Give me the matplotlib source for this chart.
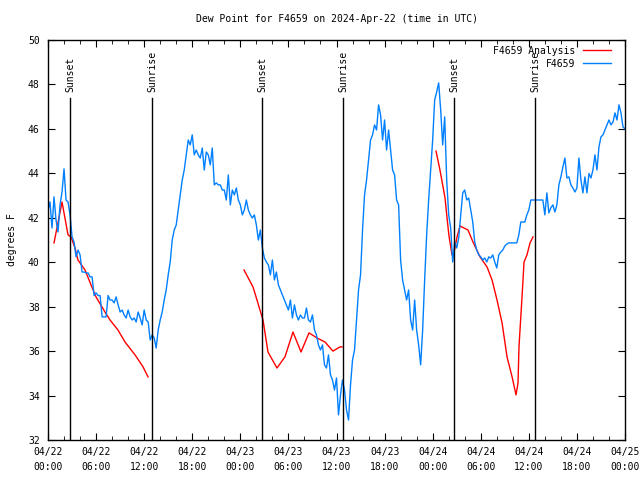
import numpy as np
import pandas as pd
import matplotlib
matplotlib.use('Agg')
from matplotlib import pyplot as plt
import matplotlib.dates as mdates

plt.rcParams['font.family'] = ['DejaVu Sans Mono']
plt.rcParams['font.size'] = 7

base = pd.Timestamp('2024-04-22 00:00')

# F4659 observations, every 15 minutes from 04/22 00:00 (degrees F)
obs_values = [
    42.35, 42.71, 41.54, 42.94, 41.90, 41.36, 42.58, 43.16, 44.20, 42.80,
    42.71, 42.13, 41.14, 40.91, 40.24, 40.55, 40.33, 39.56, 39.56, 39.52,
    39.52, 39.34, 39.34, 38.50, 38.62, 38.50, 38.50, 37.54, 37.54, 37.54,
    38.50, 38.30, 38.30, 38.17, 38.44, 38.08, 37.76, 37.85, 37.63, 37.49,
    37.85, 37.54, 37.40, 37.49, 37.31, 37.76, 37.49, 37.18, 37.85, 37.40,
    37.31, 36.50, 36.73, 36.59, 36.14, 36.95, 37.40, 37.76, 38.30, 38.75,
    39.43, 40.01, 41.00, 41.45, 41.68, 42.35, 43.03, 43.70, 44.15, 44.83,
    45.50, 45.28, 45.73, 44.83, 45.05, 44.83, 44.69, 45.14, 44.15, 44.96,
    44.83, 44.38, 45.14, 43.48, 43.57, 43.48, 43.48, 43.25, 43.25, 42.80,
    43.93, 42.58, 43.25, 43.03, 43.34, 42.80, 42.58, 42.13, 42.35, 42.80,
    42.35, 42.13, 41.99, 42.13, 41.68, 41.00, 41.45, 40.64, 40.19, 40.01,
    39.88, 39.43, 40.10, 39.20, 39.56, 38.98, 38.75, 38.53, 38.30, 38.08,
    37.85, 38.30, 37.49, 38.08, 37.63, 37.40, 37.63, 37.49, 37.49, 37.94,
    37.40, 37.31, 37.63, 36.95, 36.73, 36.28, 36.05, 36.28, 35.38, 35.24,
    35.83, 34.93, 34.70, 34.25, 34.79, 33.13, 34.03, 34.70, 34.25, 33.35,
    32.90, 34.48, 35.60, 36.05, 37.40, 38.75, 39.43, 41.45, 43.03, 43.70,
    44.60, 45.50, 45.73, 46.18, 45.95, 47.08, 46.63, 45.50, 46.40, 45.05,
    45.95, 45.05, 44.15, 43.93, 42.80, 42.58, 40.10, 39.20, 38.75, 38.30,
    38.75, 37.40, 36.95, 38.30, 36.95, 36.28, 35.38, 36.95, 39.20, 41.23,
    42.80, 44.15, 45.50, 47.30, 47.66, 48.07, 46.85, 45.28, 46.54, 43.70,
    42.13, 41.54, 40.01, 40.91, 40.64, 41.09, 42.13, 43.12, 43.25, 42.80,
    42.89, 42.35, 41.81, 40.91, 40.55, 40.33, 40.24, 40.10, 40.19, 40.01,
    40.24, 40.19, 40.33, 40.01, 39.74, 40.33, 40.46, 40.55, 40.73, 40.82,
    40.87, 40.87, 40.87, 40.87, 40.87, 41.23, 41.81, 41.81, 41.81, 42.13,
    42.35, 42.80, 42.80, 42.80, 42.80, 42.80, 42.80, 42.80, 42.13, 43.12,
    42.22, 42.45, 42.58, 42.26, 42.58, 43.48, 43.84, 44.29, 44.69, 43.79,
    43.84, 43.48, 43.34, 43.16, 43.34, 44.69, 43.70, 43.12, 43.84, 43.12,
    43.99, 43.79, 44.15, 44.83, 44.15, 45.19, 45.64, 45.73, 45.95, 46.18,
    46.40, 46.18, 46.31, 46.72, 46.40, 47.08, 46.72, 46.09, 46.00,
]
obs_times = pd.date_range(base, periods=len(obs_values), freq='15min')

# F4659 analysis, three segments (hours after 04/22 00:00, degrees F)
ana1_hours = [0.75, 1.75, 2.50, 2.87, 3.37, 3.74, 4.62, 5.37, 5.99, 7.11,
              7.74, 8.73, 9.61, 10.86, 11.86, 12.48]
ana1_values = [40.87, 42.71, 41.23, 41.14, 40.64, 40.10, 39.65, 38.98, 38.44, 37.76,
               37.40, 36.95, 36.41, 35.83, 35.29, 34.84]
ana2_hours = [24.46, 25.58, 26.08, 26.45, 26.83, 27.08, 27.45, 28.57, 29.57, 30.57,
              31.57, 32.57, 33.57, 34.56, 35.56, 36.44, 36.69]
ana2_values = [39.65, 38.89, 38.30, 37.85, 37.40, 36.82, 35.96, 35.24, 35.74, 36.86,
               35.96, 36.82, 36.59, 36.41, 36.00, 36.19, 36.19]
ana3_hours = [48.42, 48.91, 49.54, 49.79, 50.03, 50.41, 50.66, 51.04, 51.41, 52.41,
              53.03, 53.91, 54.78, 55.41, 56.03, 56.66, 57.28, 57.91, 58.40, 58.65,
              58.77, 59.15, 59.40, 59.77, 60.15, 60.52]
ana3_values = [45.00, 44.15, 42.90, 42.00, 41.20, 40.33, 40.42, 41.14, 41.63, 41.45,
               40.91, 40.24, 39.79, 39.20, 38.30, 37.27, 35.74, 34.84, 34.03, 34.57,
               36.19, 38.44, 40.01, 40.33, 40.87, 41.14]

# sun events (hours after 04/22 00:00)
sun_hours = [2.78, 13.01, 26.74, 36.85, 50.70, 60.81]
sun_labels = ['Sunset', 'Sunrise', 'Sunset', 'Sunrise', 'Sunset', 'Sunrise']

red = '#ff0000'
blue = '#0080ff'

fig = plt.figure(figsize=(6.4, 4.8), dpi=100)
ax = fig.add_axes([48 / 640, 40 / 480, 577 / 640, 400 / 480])

first = True
for hrs, vals in [(ana1_hours, ana1_values), (ana2_hours, ana2_values), (ana3_hours, ana3_values)]:
    t = base + pd.to_timedelta(hrs, unit='h')
    ax.plot(t, vals, color=red, lw=1, label='F4659 Analysis' if first else None)
    first = False
ax.plot(obs_times, obs_values, color=blue, lw=1, label='F4659')

for h, lab in zip(sun_hours, sun_labels):
    t = base + pd.Timedelta(hours=h)
    ax.axvline(t, ymin=0, ymax=0.855, color='black', lw=1)
    ax.text(t, 0.87, lab, transform=ax.get_xaxis_transform(), rotation=90,
            ha='center', va='bottom', fontsize=7)

ax.set_xlim(base, base + pd.Timedelta(hours=72))
ax.set_ylim(32, 50)
ax.set_yticks(np.arange(32, 51, 2))
ax.xaxis.set_major_locator(mdates.HourLocator(byhour=[0, 6, 12, 18]))
ax.xaxis.set_minor_locator(mdates.HourLocator(byhour=range(0, 24, 2)))
ax.xaxis.set_major_formatter(mdates.DateFormatter('%m/%d\n%H:%M'))
ax.tick_params(which='both', direction='in', top=True, right=True, labelsize=7)
ax.tick_params(which='major', length=5, pad=6)
ax.tick_params(axis='x', which='major', pad=5)
ax.tick_params(which='minor', length=3)
for lbl in ax.get_xticklabels():
    lbl.set_linespacing(1.65)
for s in ax.spines.values():
    s.set_linewidth(1)

ax.set_title('Dew Point for F4659 on 2024-Apr-22 (time in UTC)', fontsize=7, pad=13)
ax.set_ylabel('degrees F', fontsize=7, labelpad=8)

ax.legend(loc='upper right', bbox_to_anchor=(0.985, 1.0), frameon=False,
          markerfirst=False, fontsize=7, handlelength=2.8, handletextpad=0.8,
          borderaxespad=0.2, labelspacing=0.3)

fig.savefig('out.png', dpi=100)
